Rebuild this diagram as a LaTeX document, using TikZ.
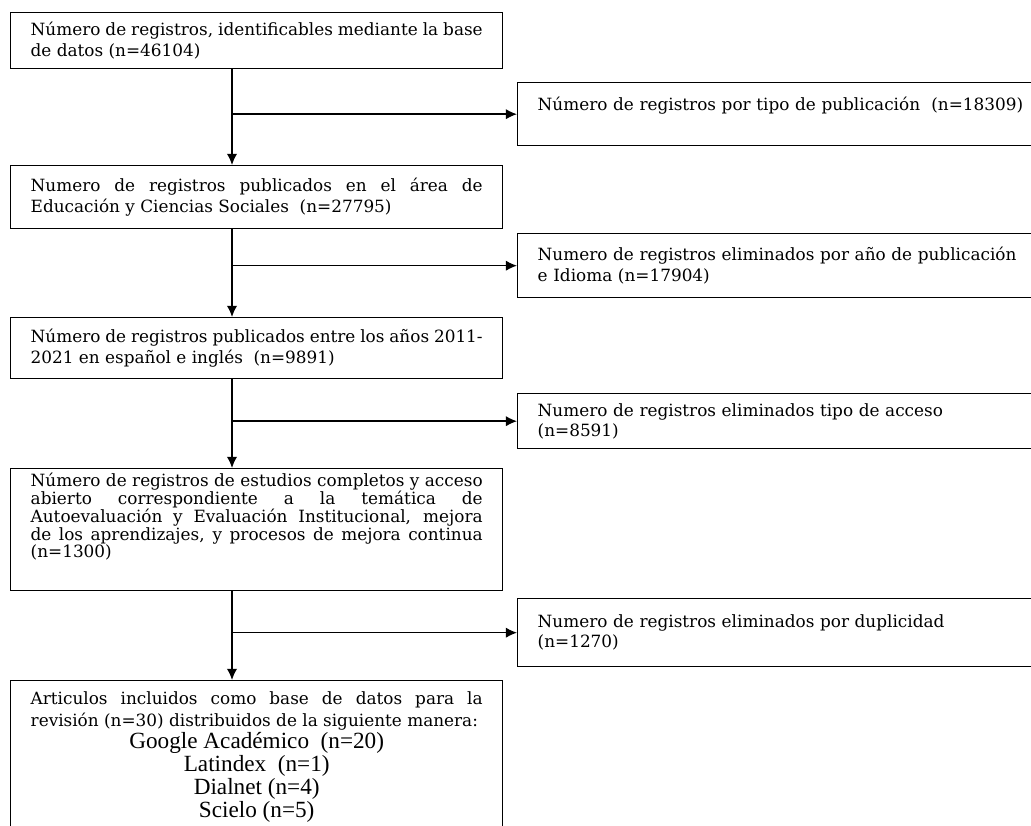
\documentclass[tikz,border=0pt]{standalone}
\usepackage{fontspec}
\setmainfont{DejaVu Serif}
\newfontfamily\listfont{Liberation Serif}
\usetikzlibrary{arrows.meta, positioning}

\begin{document}
\begin{tikzpicture}[
            regbox/.style={rectangle, draw, line width=1pt, anchor=north west, text width=11.3cm, inner xsep=0.5cm, inner ysep=2pt, align=justify, font=\fontsize{12}{14.5}\selectfont},
            elimbox/.style={rectangle, draw, line width=1pt, anchor=north west, text width=12.4cm, inner xsep=0.5cm, inner ysep=2pt, align=left, font=\fontsize{12}{14.5}\selectfont},
            arrow/.style={-{Latex[length=2.8mm, width=2.6mm]}, line width=1pt}
        ]
            \useasboundingbox (0,0) rectangle (25.775,20.65);
            \clip (0,0) rectangle (25.775,20.65);

% Main column
            \node[regbox, minimum height=1.4cm] (b1) at (0.25,20.35) {Número de registros, identificables mediante la base\linebreak de datos (n=46104)};
            \node[regbox, minimum height=1.575cm] (b2) at (0.25,16.525) {Numero de registros publicados en el área de\linebreak Educación y Ciencias Sociales\ \ (n=27795)};
            \node[regbox, minimum height=1.525cm] (b3) at (0.25,12.725) {Número de registros publicados entre los años 2011-\linebreak 2021 en español e inglés\ \ (n=9891)};
            \node[regbox, minimum height=3.05cm, font=\fontsize{12}{12.6}\selectfont] (b4) at (0.25,8.95) {Número de registros de estudios completos y acceso\linebreak abierto correspondiente a la temática de\linebreak Autoevaluación y Evaluación Institucional, mejora\linebreak de los aprendizajes, y procesos de mejora continua\linebreak (n=1300)\par\rule{0pt}{0.6cm}};
            \node[regbox, minimum height=3.8cm, font=\fontsize{12}{15.6}\selectfont] (b5) at (0.25,3.65) {Articulos incluidos como base de datos para la\linebreak revisión (n=30) distribuidos de la siguiente manera:\par
                {\centering\listfont\fontsize{16.5}{16.2}\selectfont Google Académico\ \ (n=20)\\ Latindex\ \ (n=1)\\ Dialnet (n=4)\\ Scielo (n=5)\par}};

% Excluded records
            \node[elimbox, minimum height=1.575cm] (r1) at (12.925,18.6) {Número de registros por tipo de publicación\ \ (n=18309)\par\rule{0pt}{0.4cm}};
            \node[elimbox, minimum height=1.6cm] (r2) at (12.925,14.825) {Numero de registros eliminados por año de publicación\\ e Idioma (n=17904)};
            \node[elimbox, minimum height=1.375cm] (r3) at (12.925,10.825) {Numero de registros eliminados tipo de acceso\\ (n=8591)};
            \node[elimbox, minimum height=1.7cm] (r4) at (12.925,5.7) {Numero de registros eliminados por duplicidad\\ (n=1270)};

% Flow
            \coordinate (spine) at (5.8,0);
            \draw[arrow] (b1.south -| spine) -- (b2.north -| spine);
            \draw[arrow] (b2.south -| spine) -- (b3.north -| spine);
            \draw[arrow] (b3.south -| spine) -- (b4.north -| spine);
            \draw[arrow] (b4.south -| spine) -- (b5.north -| spine);
            \draw[arrow] (spine |- r1.west) -- (r1.west);
            \draw[arrow] (spine |- r2.west) -- (r2.west);
            \draw[arrow] (spine |- r3.west) -- (r3.west);
            \draw[arrow] (spine |- r4.west) -- (r4.west);

        \end{tikzpicture}
\end{document}
